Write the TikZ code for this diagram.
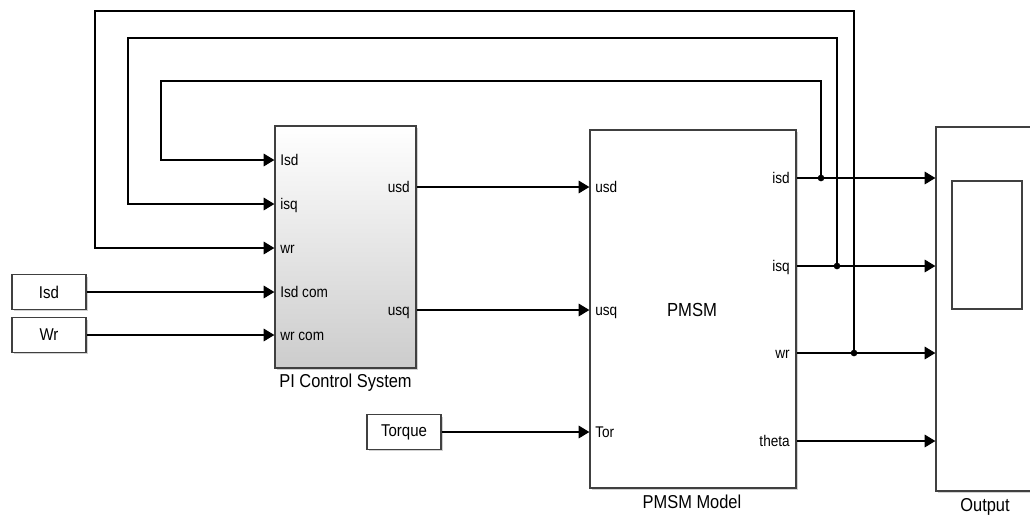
\documentclass[tikz,border=0pt]{standalone}
\usepackage{fontspec}
\setmainfont[FakeStretch=0.88]{Liberation Sans}
\usetikzlibrary{positioning}
\usetikzlibrary{arrows.meta}
\usetikzlibrary{shadows}

\begin{document}
\begin{tikzpicture}[x=0.75pt,y=-0.75pt]
		\tikzset{block/.style = {shape=rectangle,draw=black!75,line width=1pt,fill=white,inner sep=0pt,drop shadow={shadow xshift=1.5pt,shadow yshift=-1.5pt,fill=black!30,opacity=0.6}}}
		\tikzset{const/.style = {block,minimum width=55.5pt,minimum height=26pt,font=\fontsize{12.8}{14}\selectfont}}
		\tikzset{port/.style = {inner sep=0pt,text height=8.3pt,text depth=0pt,font=\fontsize{11.6}{13}\selectfont}}
		\tikzset{title/.style = {font=\fontsize{14}{16}\selectfont}}
		\tikzset{edge/.style = {-{Triangle[length=8pt,width=9.5pt]},line width=0.8pt}}
		\tikzset{dot/.style = {shape=circle,fill,inner sep=0pt,minimum size=5pt}}
		\useasboundingbox (0,0) rectangle (1030,518);
		% blocks
		\node[block,minimum width=105.75pt,minimum height=181.5pt,top color=white,middle color=white,bottom color=black!20] (pi) at (345.5,247) {};
		\node[block,minimum width=154.5pt,minimum height=268.5pt] (pmsm) at (693,309) {};
		\node[block,minimum width=75pt,minimum height=273pt] (scope) at (986,309) {};
		\node[draw=black!75,line width=0.8pt,minimum width=52.5pt,minimum height=96pt,inner sep=0pt] (screen) at (987,245) {};
		
		\node[const] (cIsd) at (49,292) {Isd};
		\node[const] (cWr) at (49,335) {Wr};
		\node[const] (cTor) at (404,432) {Torque};
		
		\node[title] (piname) at (345.5,383) {PI Control System};
		\node[title] (pmname) at (692,502) {PMSM Model};
		\node[title] (outname) at (985,507) {Output};
		\node[font=\fontsize{14.2}{16}\selectfont] (pmtext) at (692,310) {PMSM};
		
		% ports
		\node[port,anchor=west] (inIsd) at (280,160) {Isd};
		\node[port,anchor=west] (inIsq) at (280,204) {isq};
		\node[port,anchor=west] (inWr) at (280,248) {wr};
		\node[port,anchor=west] (inIsdc) at (280,292) {Isd com};
		\node[port,anchor=west] (inWrc) at (280,335) {wr com};
		\node[port,anchor=east] (piUsd) at (410,187) {usd};
		\node[port,anchor=east] (piUsq) at (410,310) {usq};
		
		\node[port,anchor=west] (pmUsd) at (595,187) {usd};
		\node[port,anchor=west] (pmUsq) at (595,310) {usq};
		\node[port,anchor=west] (pmTor) at (595,432) {Tor};
		\node[port,anchor=east] (pmIsd) at (790,178) {isd};
		\node[port,anchor=east] (pmIsq) at (790,266) {isq};
		\node[port,anchor=east] (pmWr) at (790,353) {wr};
		\node[port,anchor=east] (pmTheta) at (790,441) {theta};
		
		\node[dot] (j1) at (821,178) {};
		\node[dot] (j2) at (837,266) {};
		\node[dot] (j3) at (854,353) {};
		
		%edges
		\draw[edge] (cIsd.east) -- (pi.west |- inIsdc.west);
		\draw[edge] (cWr.east) -- (pi.west |- inWrc.west);
		\draw[edge] (cTor.east) -- (pmsm.west |- pmTor.west);
		
		\draw[edge] (pi.east |- piUsd.east) -- (pmsm.west |- pmUsd.west);
		\draw[edge] (pi.east |- piUsq.east) -- (pmsm.west |- pmUsq.west);
		
		\draw[edge] (j1.center) |- (161,81) |- (pi.west |- inIsd.west);
		\draw[edge] (j2.center) |- (128,38) |- (pi.west |- inIsq.west);
		\draw[edge] (j3.center) |- (95,11) |- (pi.west |- inWr.west);
		
		\draw[edge] (pmsm.east |- pmIsd.east) -- (scope.west |- pmIsd.east);
		\draw[edge] (pmsm.east |- pmIsq.east) -- (scope.west |- pmIsq.east);
		\draw[edge] (pmsm.east |- pmWr.east) -- (scope.west |- pmWr.east);
		\draw[edge] (pmsm.east |- pmTheta.east) -- (scope.west |- pmTheta.east);
		
\end{tikzpicture}
\end{document}
